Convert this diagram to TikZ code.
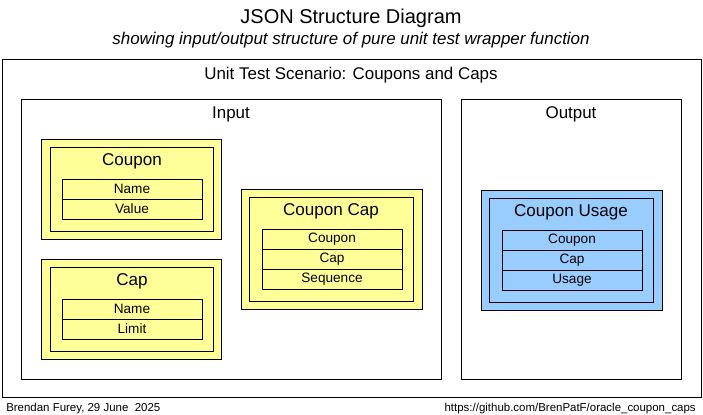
\documentclass[tikz,border=0pt]{standalone}
\usepackage{fontspec}
\setmainfont{Liberation Sans}
\definecolor{ylw}{HTML}{FFFF99}
\definecolor{blu}{HTML}{99CCFF}
\tikzset{
  frame/.style={draw=black, line width=0.75pt, anchor=north west, inner sep=0pt, outer sep=0pt},
  ybox/.style={frame, fill=ylw},
  bbox/.style={frame, fill=blu},
  row/.style={frame, minimum width=105pt, minimum height=15pt, font=\fontsize{10.2}{11}\selectfont},
  boxtitle/.style={anchor=base, font=\fontsize{12.8}{14}\selectfont, inner sep=0pt},
  sectitle/.style={anchor=base, font=\fontsize{12.7}{14}\selectfont, inner sep=0pt},
}
\begin{document}
\begin{tikzpicture}[x=0.75pt, y=-0.75pt]
\useasboundingbox (0,0) rectangle (703,414);
% titles
\node[anchor=base, font=\fontsize{15}{16}\selectfont, inner sep=0pt] (title) at (351,23) {JSON Structure Diagram};
\node[anchor=base, font=\fontsize{12.7}{14}\itshape\selectfont, inner sep=0pt] (subtitle) at (351,44) {showing input/output structure of pure unit test wrapper function};
% scenario
\node[frame, minimum width=524.25pt, minimum height=253.5pt] (scen) at (2,59) {};
\node[sectitle] (scentitle) at (351,79) {Unit Test Scenario: Coupons and Caps};
% input/output
\node[frame, minimum width=315pt, minimum height=210pt] (input) at (21,99) {};
\node[sectitle] (inputtitle) at (231,118) {Input};
\node[frame, minimum width=165pt, minimum height=210pt] (output) at (461,99) {};
\node[sectitle] (outputtitle) at (571,118) {Output};
% Coupon
\node[ybox, minimum width=135pt, minimum height=75pt] (coupono) at (41,139) {};
\node[ybox, minimum width=122.25pt, minimum height=63pt] (coupon) at (50,147) {};
\node[boxtitle] (coupont) at (132,165) {Coupon};
\node[row] (couponname) at (62,179) {Name};
\node[row] (couponvalue) at (62,199) {Value};
% Cap
\node[ybox, minimum width=135pt, minimum height=75pt] (capo) at (41,259) {};
\node[ybox, minimum width=122.25pt, minimum height=63pt] (cap) at (50,267) {};
\node[boxtitle] (capt) at (132,285) {Cap};
\node[row] (capname) at (62,299) {Name};
\node[row] (caplimit) at (62,319) {Limit};
% Coupon Cap
\node[ybox, minimum width=135.75pt, minimum height=90pt] (ccapo) at (241,189) {};
\node[ybox, minimum width=123pt, minimum height=78pt] (ccap) at (249,197) {};
\node[boxtitle] (ccapt) at (331,215) {Coupon Cap};
\node[row] (ccapcoupon) at (262,229) {Coupon};
\node[row] (ccapcap) at (262,249) {Cap};
\node[row] (ccapseq) at (262,269) {Sequence};
% Coupon Usage
\node[bbox, minimum width=135.75pt, minimum height=90pt] (cuso) at (481,190) {};
\node[bbox, minimum width=123pt, minimum height=78pt] (cus) at (489,198) {};
\node[boxtitle] (cust) at (571,216) {Coupon Usage};
\node[row] (cuscoupon) at (502,230) {Coupon};
\node[row] (cuscap) at (502,250) {Cap};
\node[row] (cususage) at (502,270) {Usage};
% footer
\node[anchor=base west, inner sep=0pt, font=\fontsize{8.6}{10}\selectfont] (author) at (6,411) {Brendan Furey, 29 June\ \ 2025};
\node[anchor=base east, inner sep=0pt, font=\fontsize{8.6}{10}\selectfont] (url) at (696,411) {https://github.com/BrenPatF/oracle\_coupon\_caps};
\end{tikzpicture}
\end{document}
